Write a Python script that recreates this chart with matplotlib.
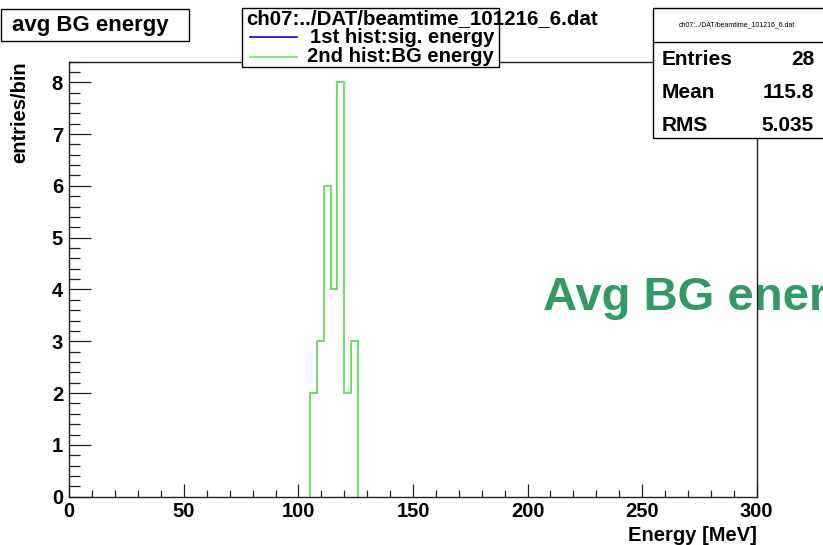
import numpy as np
import matplotlib
matplotlib.use("Agg")
import matplotlib.pyplot as plt
from matplotlib.patches import Rectangle
from matplotlib.lines import Line2D
from matplotlib.ticker import MultipleLocator

# ---- data ----
bin_edges = [105, 108, 111, 114, 117, 120, 123, 126]
bg_counts = [2, 3, 6, 4, 8, 2, 3]
x_range = [0, 300]
y_max = 8.4
title = "avg BG energy"
legend_header = "ch07:../DAT/beamtime_101216_6.dat"
legend_labels = ["1st hist:sig. energy", "2nd hist:BG energy"]
stat_names = ["Entries", "Mean", "RMS"]
stat_values = ["28", "115.8", "5.035"]
x_label = "Energy [MeV]"
y_label = "entries/bin"
overlay_text = "Avg BG energy"

W, H = 823, 545
FONT = "Liberation Sans"
GREEN = "#6ee06e"
BLUE = "#0000ee"

plt.rcParams["font.family"] = [FONT, "DejaVu Sans"]
plt.rcParams["font.weight"] = "bold"

fig = plt.figure(figsize=(W / 100, H / 100), dpi=100)

def fx(x):
    return x / W

def fy(y):
    return 1 - y / H

L, R, T, B = 69.3, 756.7, 61.5, 496.7
ax = fig.add_axes([fx(L), fy(B), (R - L) / W, (B - T) / H])
ax.set_xlim(*x_range)
ax.set_ylim(0, y_max)

ax.stairs(bg_counts, bin_edges, color=GREEN, linewidth=1.4, baseline=0, zorder=3)

ax.xaxis.set_major_locator(MultipleLocator(50))
ax.xaxis.set_minor_locator(MultipleLocator(10))
ax.yaxis.set_major_locator(MultipleLocator(1))
ax.yaxis.set_minor_locator(MultipleLocator(0.2))
ax.tick_params(axis="both", which="both", direction="in", width=0.9, colors="#222222",
               labelcolor="black", labelsize=14.5)
ax.tick_params(axis="x", which="major", length=9.4, pad=3.5)
ax.tick_params(axis="x", which="minor", length=4.7)
ax.tick_params(axis="y", which="major", length=15.6, pad=4.5)
ax.tick_params(axis="y", which="minor", length=8.0)
for lab in ax.get_xticklabels() + ax.get_yticklabels():
    lab.set_fontweight("bold")
for s in ax.spines.values():
    s.set_linewidth(1.0)
    s.set_color("#222222")
    s.set_zorder(5)

ax.set_xlabel(x_label, fontsize=14.5, fontweight="bold", loc="right", labelpad=4)
ax.set_ylabel(y_label, fontsize=14.5, fontweight="bold", loc="top", labelpad=16)

# big overlay text (behind the frame)
ax.text(fx(543), fy(298), overlay_text, transform=fig.transFigure, fontsize=34,
        fontweight="bold", color="#339966", ha="left", va="center",
        clip_on=False, zorder=1)

# title box
fig.add_artist(Rectangle((fx(0.8), fy(40.7)), (189 - 0.8) / W, (40.7 - 9.3) / H,
                         transform=fig.transFigure, fc="white", ec="black", lw=1.0, zorder=10))
fig.text(fx(11.5), fy(25.5), title, fontsize=16, fontweight="bold", ha="left",
         va="center", zorder=11)

# legend box
fig.add_artist(Rectangle((fx(241.7), fy(66.7)), (499 - 241.7) / W, (66.7 - 8.3) / H,
                         transform=fig.transFigure, fc="white", ec="black", lw=1.0, zorder=10))
fig.text(fx(246.5), fy(18.5), legend_header, fontsize=14.8, fontweight="bold", ha="left",
         va="center", zorder=11)
for i, (lab, col) in enumerate(zip(legend_labels, [BLUE, GREEN])):
    yy = [37.3, 56.7][i]
    fig.add_artist(Line2D([fx(250), fx(297)], [fy(yy), fy(yy)], color=col, lw=1.2,
                          transform=fig.transFigure, zorder=11))
    fig.text(fx(494), fy(yy), lab, fontsize=14.6, fontweight="bold", ha="right",
             va="center", zorder=11)

# stats box
fig.add_artist(Rectangle((fx(653.3), fy(138)), (830 - 653.3) / W, (138 - 8.3) / H,
                         transform=fig.transFigure, fc="white", ec="black", lw=1.0, zorder=10))
fig.add_artist(Line2D([fx(653.3), fx(830)], [fy(41.7), fy(41.7)], color="black", lw=1.0,
                      transform=fig.transFigure, zorder=11))
fig.text(fx(737), fy(24.5), legend_header, fontsize=5, fontweight="normal", ha="center",
         va="center", zorder=11)
for i, (n, v) in enumerate(zip(stat_names, stat_values)):
    yy = 59.5 + i * 33
    fig.text(fx(661.7), fy(yy), n, fontsize=15, fontweight="bold", ha="left",
             va="center", zorder=11)
    fig.text(fx(814), fy(yy), v, fontsize=15, fontweight="bold", ha="right",
             va="center", zorder=11)

fig.savefig("out.png", dpi=100)
